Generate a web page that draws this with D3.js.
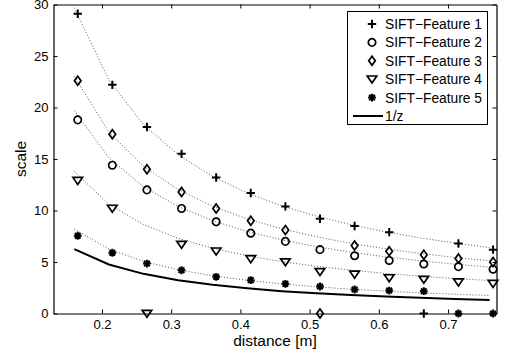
<!DOCTYPE html>
<html>
<head>
<meta charset="utf-8">
<script src="https://cdn.jsdelivr.net/npm/d3@7"></script>
<style>
  body { margin: 0; background: #fff; }
  text { font-family: "Liberation Sans", Arial, sans-serif; fill: #000; }
  .tick text { font-size: 13px; }
  .legend text { font-size: 13.8px; }
  .title { font-size: 15.5px; }
</style>
</head>
<body>
<script>
// measured distances (markers) and curve sample points
var zMarks = [0.165, 0.215, 0.265, 0.315, 0.365, 0.415, 0.465, 0.515, 0.565, 0.615, 0.665, 0.715, 0.765];
var zFit = [0.16, 0.21, 0.26, 0.31, 0.36, 0.41, 0.46, 0.51, 0.56, 0.61, 0.66, 0.71, 0.76];

var feat1 = [29.1, 22.2, 18.1, 15.5, 13.2, 11.7, 10.4, 9.2, 8.5, 7.9, 0, 6.8, 6.2];
var feat2 = [18.8, 14.4, 12.0, 10.2, 8.9, 7.8, 7.0, 6.2, 5.6, 5.15, 4.8, 4.55, 4.3];
var feat3 = [22.6, 17.4, 14.0, 11.8, 10.2, 9.0, 8.1, 0, 6.6, 6.05, 5.7, 5.35, 5.0];
var feat4 = [12.9, 10.2, 0, 6.7, 6.05, 5.3, 5.0, 4.05, 3.8, 3.45, 3.3, 3.05, 2.9];
var feat5 = [7.55, 5.9, 4.85, 4.2, 3.56, 3.24, 2.88, 2.62, 2.33, 2.23, 2.17, 0, 0];

var fit1 = [29.69, 22.67, 18.34, 15.42, 13.30, 11.70, 10.45, 9.45, 8.62, 7.93, 7.34, 6.84, 6.40];
var fit2 = [19.70, 15.12, 12.30, 10.39, 9.01, 7.96, 7.15, 6.49, 5.95, 5.50, 5.12, 4.79, 4.50];
var fit3 = [23.02, 17.62, 14.29, 12.04, 10.41, 9.18, 8.22, 7.45, 6.81, 6.28, 5.83, 5.44, 5.11];
var fit4 = [13.80, 10.60, 8.63, 7.30, 6.34, 5.61, 5.04, 4.58, 4.21, 3.89, 3.62, 3.39, 3.20];
var fit5 = [8.20, 6.25, 5.06, 4.25, 3.66, 3.22, 2.87, 2.59, 2.36, 2.17, 2.01, 1.87, 1.75];

var invZ = [6.25, 4.76, 3.85, 3.23, 2.78, 2.44, 2.17, 1.96, 1.79, 1.64, 1.52, 1.41, 1.32];

var labels = ["SIFT\u2212Feature 1", "SIFT\u2212Feature 2", "SIFT\u2212Feature 3", "SIFT\u2212Feature 4", "SIFT\u2212Feature 5"];
var markerTypes = ["plus", "circle", "diamond", "tri", "star"];
var xTicks = [0.2, 0.3, 0.4, 0.5, 0.6, 0.7];
var yTicks = [0, 5, 10, 15, 20, 25, 30];

var series = [feat1, feat2, feat3, feat4, feat5];
var fits = [fit1, fit2, fit3, fit4, fit5];

var width = 510, height = 356;
var plotLeft = 53.5, plotRight = 496.5, plotTop = 4.5, plotBottom = 313.5;

var svg = d3.select("body").append("svg")
    .attr("width", width)
    .attr("height", height);

var xScale = d3.scaleLinear().domain([0.13, 0.77]).range([plotLeft, plotRight]);
var yScale = d3.scaleLinear().domain([0, 30]).range([plotBottom, plotTop]);

var markerPath = {
  plus: "M-4.2,0H4.2M0,-4.2V4.2",
  circle: "M3.7,0A3.7,3.7 0 1,1 -3.7,0A3.7,3.7 0 1,1 3.7,0Z",
  diamond: "M0,-4.5L3.3,0L0,4.5L-3.3,0Z",
  tri: "M-4.8,-3.2H4.8L0,3.8Z",
  star: "M-3.9,0H3.9M0,-3.9V3.9M-2.8,-2.8L2.8,2.8M-2.8,2.8L2.8,-2.8"
};
var markerWidth = { plus: 2, circle: 1.7, diamond: 1.7, tri: 1.7, star: 2 };

// axes, ticks inside like the original box
function styleAxis(g) {
  g.attr("font-size", null).attr("font-family", null);
  g.select(".domain").attr("stroke", "#000").attr("stroke-width", 1.2);
  g.selectAll(".tick line").attr("stroke", "#000");
}

svg.append("g")
    .attr("transform", "translate(0," + plotBottom + ")")
    .call(d3.axisBottom(xScale).tickValues(xTicks).tickSize(-4).tickSizeOuter(0).tickPadding(6)
      .tickFormat(d3.format(".1f")))
    .call(styleAxis);
svg.append("g")
    .attr("transform", "translate(0," + plotTop + ")")
    .call(d3.axisTop(xScale).tickValues(xTicks).tickSize(-4).tickSizeOuter(0).tickFormat(""))
    .call(styleAxis);
svg.append("g")
    .attr("transform", "translate(" + plotLeft + ",0)")
    .call(d3.axisLeft(yScale).tickValues(yTicks).tickSize(-4).tickSizeOuter(0).tickPadding(5))
    .call(styleAxis);
svg.append("g")
    .attr("transform", "translate(" + plotRight + ",0)")
    .call(d3.axisRight(yScale).tickValues(yTicks).tickSize(-4).tickSizeOuter(0).tickFormat(""))
    .call(styleAxis);

// fitted curves (dotted)
var fitLine = d3.line()
    .x(function(d, i) { return xScale(zFit[i]); })
    .y(function(d) { return yScale(d); });

svg.append("g").selectAll("path")
    .data(fits)
    .enter()
    .append("path")
      .attr("d", fitLine)
      .attr("fill", "none")
      .attr("stroke", "#555")
      .attr("stroke-width", 1)
      .attr("stroke-dasharray", "1,2");

// 1/z reference
svg.append("path")
    .attr("d", fitLine(invZ))
    .attr("fill", "none")
    .attr("stroke", "#000")
    .attr("stroke-width", 2);

// markers
series.forEach(function(vals, s) {
  var t = markerTypes[s];
  svg.append("g").selectAll("path")
      .data(vals)
      .enter()
      .append("path")
        .attr("transform", function(d, i) { return "translate(" + xScale(zMarks[i]) + "," + yScale(d) + ")"; })
        .attr("d", markerPath[t])
        .attr("fill", t == "star" ? "#000" : "none")
        .attr("stroke", "#000")
        .attr("stroke-width", markerWidth[t]);
});

// legend
var legend = svg.append("g").attr("class", "legend");
legend.append("rect")
    .attr("x", 347.5).attr("y", 11.5)
    .attr("width", 140).attr("height", 113)
    .attr("fill", "#fff").attr("stroke", "#000");

var rowY = function(i) { return 24 + i * 18.4; };
labels.forEach(function(lbl, i) {
  var t = markerTypes[i];
  legend.append("path")
      .attr("transform", "translate(372," + rowY(i) + ")")
      .attr("d", markerPath[t])
      .attr("fill", t == "star" ? "#000" : "none")
      .attr("stroke", "#000")
      .attr("stroke-width", markerWidth[t]);
  legend.append("text")
      .attr("x", 385)
      .attr("y", rowY(i))
      .attr("dy", "0.36em")
      .text(lbl);
});
legend.append("line")
    .attr("x1", 353).attr("x2", 383)
    .attr("y1", rowY(5)).attr("y2", rowY(5))
    .attr("stroke", "#000").attr("stroke-width", 2);
legend.append("text")
    .attr("x", 385)
    .attr("y", rowY(5))
    .attr("dy", "0.36em")
    .text("1/z");

// axis titles
svg.append("text")
    .attr("class", "title")
    .attr("x", (plotLeft + plotRight) / 2)
    .attr("y", 346)
    .style("text-anchor", "middle")
    .text("distance [m]");

svg.append("text")
    .attr("class", "title")
    .attr("transform", "rotate(-90)")
    .attr("x", -(plotTop + plotBottom) / 2)
    .attr("y", 25.5)
    .style("text-anchor", "middle")
    .text("scale");
</script>
</body>
</html>
